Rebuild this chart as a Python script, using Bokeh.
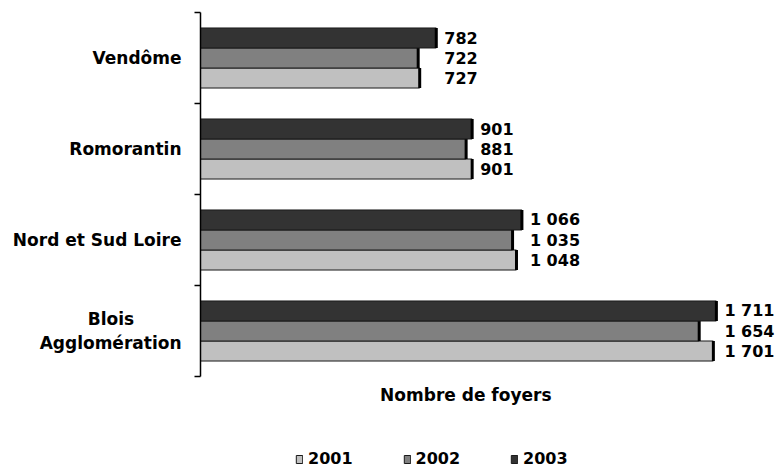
from bokeh.plotting import figure
from bokeh.layouts import column
from bokeh.models import FixedTicker, Legend, LegendItem, ColumnDataSource, Range1d
from bokeh.core.properties import value
from bokeh.embed import file_html
from bokeh.resources import INLINE

categories = ["Blois Agglomération", "Nord et Sud Loire", "Romorantin", "Vendôme"]
years = ["2001", "2002", "2003"]
v2001 = [1701, 1048, 901, 727]
v2002 = [1654, 1035, 881, 722]
v2003 = [1711, 1066, 901, 782]
series = [v2001, v2002, v2003]
colors = ["#C0C0C0", "#808080", "#333333"]
offsets = [-0.22, 0.0, 0.22]
bar_h = 0.22

FONT = "DejaVu Sans"
NB = "\u00a0"

def fmt(v):
    return f"{v:,}".replace(",", " ")

p = figure(width=778, height=420, output_backend="svg", toolbar_location=None,
           x_range=Range1d(0, 1917), y_range=Range1d(0, 4),
           min_border_left=200, min_border_right=0, min_border_top=12,
           min_border_bottom=44)
p.outline_line_color = None
p.xgrid.visible = False
p.ygrid.visible = False
p.background_fill_color = "white"
p.border_fill_color = "white"

centers = [i + 0.5 for i in range(len(categories))]
group_max = [max(a, b, c) for a, b, c in zip(v2001, v2002, v2003)]

for vals, col, off in zip(series, colors, offsets):
    ys = [c + off for c in centers]
    src = ColumnDataSource(dict(y=ys, right=vals, top=[y + bar_h / 2 for y in ys],
                                bottom=[y - bar_h / 2 for y in ys],
                                lx=group_max, lab=[fmt(v) for v in vals]))
    p.hbar(y="y", right="right", left=0, height=bar_h, source=src,
           fill_color=col, line_color="#1a1a1a", line_width=1)
    p.segment(x0="right", x1="right", y0="bottom", y1="top", source=src,
              line_color="black", line_width=3)
    p.text(x="lx", y="y", text="lab", source=src, x_offset=8, y_offset=0,
           text_font=value(FONT), text_font_style="bold", text_font_size="16px",
           text_color="black", text_baseline="middle", text_align="left")

# Category axis
yax = p.yaxis[0]
yax.ticker = FixedTicker(ticks=centers, minor_ticks=[0, 1, 2, 3, 4])
overrides = {}
for c, name in zip(centers, categories):
    if name == "Blois Agglomération":
        overrides[c] = "Blois" + NB * 8 + "\nAgglomération"
    else:
        overrides[c] = name
yax.major_label_overrides = overrides
yax.major_tick_out = 0
yax.major_tick_in = 0
yax.minor_tick_out = 6
yax.minor_tick_in = 0
yax.minor_tick_line_color = "black"
yax.minor_tick_line_width = 1.5
yax.axis_line_color = "black"
yax.axis_line_width = 1.5
yax.major_label_standoff = 13
yax.major_label_text_font = FONT
yax.major_label_text_font_style = "bold"
yax.major_label_text_font_size = "17px"
yax.major_label_text_color = "black"

# X axis (title only)
xax = p.xaxis[0]
xax.ticker = FixedTicker(ticks=[])
xax.axis_line_color = None
xax.major_tick_line_color = None
xax.minor_tick_line_color = None
xax.axis_label = "Nombre de foyers" + NB * 8
xax.axis_label_text_font = FONT
xax.axis_label_text_font_style = "bold"
xax.axis_label_text_font_size = "17px"
xax.axis_label_text_color = "black"
xax.axis_label_standoff = 8

# Legend strip below the chart (its frame is aligned with the chart's frame)
pl = figure(width=778, height=48, output_backend="svg", toolbar_location=None,
            x_range=Range1d(0, 1), y_range=Range1d(0, 1),
            min_border_left=0, min_border_right=0, min_border_top=0,
            min_border_bottom=0)
pl.axis.visible = False
pl.grid.visible = False
pl.outline_line_color = None
pl.background_fill_color = "white"
pl.border_fill_color = "white"
leg_r = []
for col in colors:
    leg_r.append(pl.hbar(y=[50], left=[50], right=[60], height=1, fill_color=col,
                         line_color="#1a1a1a", line_width=1))
legend = Legend(items=[LegendItem(label=yr, renderers=[r]) for yr, r in zip(years, leg_r)],
                orientation="horizontal", location=(95, 0),
                glyph_width=8, glyph_height=10, label_standoff=5, spacing=50,
                padding=0, margin=0, border_line_color=None,
                background_fill_alpha=0,
                label_text_font=FONT, label_text_font_style="bold",
                label_text_font_size="16px", label_text_color="black")
pl.add_layout(legend, "center")

layout = column(p, pl, spacing=0)
open("out.html", "w").write(file_html(layout, INLINE))
